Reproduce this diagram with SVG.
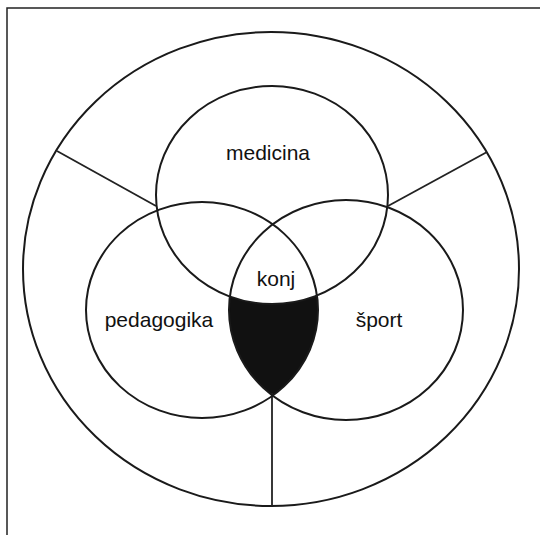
<svg xmlns="http://www.w3.org/2000/svg" width="540" height="535" viewBox="0 0 540 535">
  <style>
    .ring { fill: none; stroke: #1a1a1a; stroke-width: 2; }
    .conn { fill: none; stroke: #222; stroke-width: 1.8; }
    .lbl { font-family: "Liberation Sans", Arial, sans-serif; font-size: 21px; fill: #111; text-anchor: middle; }
  </style>
  <defs>
    <clipPath id="pedClip">
      <ellipse cx="202" cy="310" rx="116" ry="108"/>
    </clipPath>
    <mask id="noMed">
      <rect x="0" y="0" width="540" height="535" fill="#fff"/>
      <ellipse cx="272" cy="195" rx="116" ry="109" fill="#000"/>
    </mask>
  </defs>
  <rect width="540" height="535" fill="#fff"/>
  <g id="frame">
    <path d="M7,535 V8 H540" fill="none" stroke="#222" stroke-width="1.5"/>
  </g>
  <g id="lens" mask="url(#noMed)">
    <ellipse cx="346" cy="310" rx="117" ry="110" fill="#111" clip-path="url(#pedClip)"/>
  </g>
  <g id="outer">
    <ellipse class="ring" cx="271" cy="269" rx="248" ry="237"/>
  </g>
  <g id="connectors">
    <line class="conn" x1="57" y1="151" x2="156" y2="206"/>
    <line class="conn" x1="487" y1="152" x2="388" y2="206"/>
    <line class="conn" x1="272" y1="393" x2="272" y2="506"/>
  </g>
  <g id="medicina">
    <ellipse class="ring" cx="272" cy="195" rx="116" ry="109"/>
    <text class="lbl" x="268" y="160">medicina</text>
  </g>
  <g id="pedagogika">
    <ellipse class="ring" cx="202" cy="310" rx="116" ry="108"/>
    <text class="lbl" x="159" y="327">pedagogika</text>
  </g>
  <g id="sport">
    <ellipse class="ring" cx="346" cy="310" rx="117" ry="110"/>
    <text class="lbl" x="379" y="327">šport</text>
  </g>
  <g id="konj">
    <text class="lbl" x="276" y="286">konj</text>
  </g>
</svg>
